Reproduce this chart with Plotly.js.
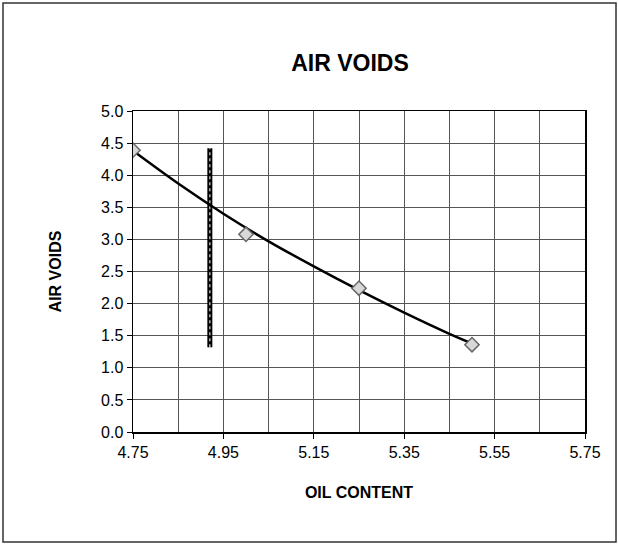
<!DOCTYPE html>
<html>
<head>
<meta charset="utf-8">
<script src="https://cdn.plot.ly/plotly-3.0.1.min.js"></script>
<style>html,body{margin:0;padding:0;background:#fff;}</style>
</head>
<body>
<div id="chart" style="width:618px;height:544px;"></div>
<script>
// Measured points
const oilContent = [4.75, 5.0, 5.25, 5.5];
const airVoids = [4.39, 3.08, 2.24, 1.36];
// Trendline
const trendX = [4.75, 4.85, 4.95, 5.05, 5.15, 5.25, 5.35, 5.45, 5.5];
const trendY = [4.38, 3.87, 3.40, 2.97, 2.58, 2.21, 1.86, 1.53, 1.38];
// Vertical marker bar
const barX = [4.92, 4.92];
const barY = [1.32, 4.42];
// Tick labels
const xTickVals = [4.75, 4.95, 5.15, 5.35, 5.55, 5.75];
const xTickText = ['4.75', '4.95', '5.15', '5.35', '5.55', '5.75'];
const yTickVals = [0, 0.5, 1, 1.5, 2, 2.5, 3, 3.5, 4, 4.5, 5];
const yTickText = ['0.0','0.5','1.0','1.5','2.0','2.5','3.0','3.5','4.0','4.5','5.0'];

const font = 'Liberation Sans, Arial, sans-serif';

const traces = [
  {x: barX, y: barY, mode: 'lines', line: {color: '#000', width: 5}, hoverinfo: 'skip', showlegend: false},
  {x: barX, y: barY, mode: 'lines', line: {color: '#e0e0e0', width: 1.2, dash: 'dot'}, hoverinfo: 'skip', showlegend: false},
  {x: trendX, y: trendY, mode: 'lines', line: {color: '#000', width: 2.5, shape: 'spline'}, showlegend: false},
  {x: oilContent, y: airVoids, mode: 'markers', showlegend: false,
   marker: {symbol: 'diamond', size: 11, color: '#d8d8d8', line: {color: '#666', width: 1.5}}}
];

const layout = {
  width: 618, height: 544,
  margin: {l: 133, r: 33, t: 111, b: 112},
  paper_bgcolor: '#fff', plot_bgcolor: '#fff',
  font: {family: font, color: '#000', size: 16},
  title: {text: '<b>AIR VOIDS</b>', font: {family: font, size: 23, color: '#000'},
          x: 350/618, xref: 'container', xanchor: 'center', y: 1 - 63/544, yref: 'container', yanchor: 'middle'},
  xaxis: {
    range: [4.75, 5.75], tickvals: xTickVals, ticktext: xTickText,
    showline: true, mirror: true, linecolor: '#000', linewidth: 1.5,
    showgrid: true, gridcolor: '#555', gridwidth: 1,
    ticks: 'outside', ticklen: 5, tickcolor: '#000',
    tickfont: {family: font, size: 16},
    minor: {dtick: 0.1, tick0: 4.75, showgrid: true, gridcolor: '#555', gridwidth: 1, ticks: ''},
    zeroline: false,
    title: {text: '<b>OIL CONTENT</b>', font: {family: font, size: 16}, standoff: 27}
  },
  yaxis: {
    range: [0, 5], tickvals: yTickVals, ticktext: yTickText,
    showline: true, mirror: true, linecolor: '#000', linewidth: 1.5,
    showgrid: true, gridcolor: '#555', gridwidth: 1,
    ticks: 'outside', ticklen: 5, tickcolor: '#000',
    tickfont: {family: font, size: 16},
    zeroline: false,
    title: {text: '<b>AIR VOIDS</b>', font: {family: font, size: 16}, standoff: 35}
  },
  shapes: [
    {type: 'rect', xref: 'paper', yref: 'paper',
     x0: (3-133)/452, x1: (616-133)/452, y0: (432-542)/321, y1: (432-3)/321,
     line: {color: '#333', width: 1.5}, fillcolor: 'rgba(0,0,0,0)'}
  ]
};

Plotly.newPlot('chart', traces, layout, {displayModeBar: false, staticPlot: true});
</script>
</body>
</html>
